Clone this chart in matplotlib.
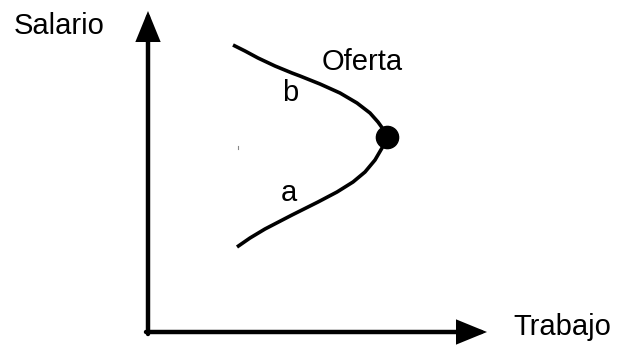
import matplotlib.pyplot as plt
import numpy as np

# backward bending labour supply (pixel units, y down)
labor = np.array([233, 245, 258, 275, 292, 300, 320, 340, 357, 370, 378, 383, 386,
                  386, 382, 375, 365, 353, 337, 318, 292, 265, 250, 237])
wage = np.array([45, 51, 58, 66, 73, 76, 84, 93, 103, 113, 122, 129, 136,
                 138, 148, 160, 172, 182, 192, 202, 215, 229, 238, 247])
bend_labor = 387
bend_wage = 137

axis_labels = ['Salario', 'Trabajo']
curve_label = 'Oferta'
branch_labels = ['b', 'a']

plt.rcParams['font.family'] = ['Liberation Sans', 'DejaVu Sans']

fig = plt.figure(figsize=(6.2, 3.47), dpi=100)
ax = fig.add_axes([0, 0, 1, 1])
ax.set_xlim(0, 620)
ax.set_ylim(347, 0)
ax.axis('off')

#axes with arrow heads
arrow = dict(arrowstyle='-|>,head_length=1.1,head_width=0.45', lw=3.2,
             color='black', shrinkA=0, shrinkB=0, mutation_scale=15,
             joinstyle='miter')
ax.annotate('', xy=(148, 11), xytext=(148, 334), arrowprops=arrow)
ax.annotate('', xy=(487, 332), xytext=(146, 332), arrowprops=arrow)

#supply curve
ax.plot(labor, wage, color='black', lw=2.6, solid_capstyle='butt',
        solid_joinstyle='round')
ax.plot(bend_labor, bend_wage, 'o', color='black', markersize=16)

# little stray tick
ax.plot([238, 238], [146, 149], color='#888888', lw=0.8)

fs = 21
ax.text(14, 34, axis_labels[0], fontsize=fs, va='baseline', ha='left')
ax.text(513, 335, axis_labels[1], fontsize=fs, va='baseline', ha='left')
ax.text(322, 70, curve_label, fontsize=fs, va='baseline', ha='left')
ax.text(282, 101, branch_labels[0], fontsize=fs, va='baseline', ha='left')
ax.text(281, 201, branch_labels[1], fontsize=fs, va='baseline', ha='left')

plt.savefig('out.png', dpi=100)
